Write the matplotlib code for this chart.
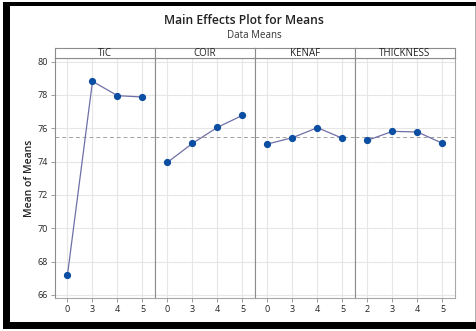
import matplotlib.pyplot as plt
from matplotlib.patches import Rectangle

plt.rcParams['font.family'] = ['Open Sans', 'DejaVu Sans']

factors = ['TiC', 'COIR', 'KENAF', 'THICKNESS']
levels = [['0', '3', '4', '5'],
          ['0', '3', '4', '5'],
          ['0', '3', '4', '5'],
          ['2', '3', '4', '5']]
tic_means = [67.22, 78.82, 77.96, 77.88]
coir_means = [73.96, 75.10, 76.06, 76.78]
kenaf_means = [75.06, 75.44, 76.04, 75.40]
thick_means = [75.28, 75.82, 75.78, 75.10]
grand_mean = 75.46
yticks = [66, 68, 70, 72, 74, 76, 78, 80]

all_means = [tic_means, coir_means, kenaf_means, thick_means]

W, H = 477, 331
fig = plt.figure(figsize=(W / 100, H / 100), dpi=100)

def px(x0, y0, w, h):
    # pixel box (top-left origin) -> figure fraction
    return [x0 / W, 1 - (y0 + h) / H, w / W, h / H]

# window frame
frame = dict(transform=fig.transFigure, figure=fig, color='black', lw=0)
fig.patches.append(Rectangle((3 / W, 1 - 329 / H), 7 / W, 327 / H, **frame))
fig.patches.append(Rectangle((3 / W, 1 - 6 / H), 474 / W, 4 / H, **frame))
fig.patches.append(Rectangle((3 / W, 1 - 329 / H), 474 / W, 7 / H, **frame))
fig.patches.append(Rectangle((475.5 / W, 1 - 322 / H), 1 / W, 316 / H,
                             transform=fig.transFigure, figure=fig,
                             color='#b0b0b0', lw=0))

line_col = '#6f6fa8'
dot_col = '#0b4ea2'
edge_col = '#8c8c8c'

left, top, pw, ph = 55, 58, 100, 240
for i, (name, labs, vals) in enumerate(zip(factors, levels, all_means)):
    ax = fig.add_axes(px(left + i * pw, top, pw, ph))
    xs = range(len(vals))
    ax.axhline(grand_mean, color='#a0a0a0', ls=(0, (4, 3)), lw=0.7, zorder=1)
    ax.plot(xs, vals, color=line_col, lw=0.9, zorder=2)
    ax.plot(xs, vals, 'o', color=dot_col, ms=4.2, zorder=3)
    ax.set_xlim(-0.5, 3.5)
    ax.set_ylim(65.82, 80.22)
    ax.set_xticks(list(xs))
    ax.set_xticklabels(labs)
    ax.set_yticks(yticks)
    ax.grid(True, color='#e6e6e6', lw=0.8, zorder=0)
    ax.set_axisbelow(True)
    ax.tick_params(axis='both', length=3, width=0.6, color='#8c8c8c',
                   labelsize=6.5, pad=2, labelcolor='#222222')
    if i > 0:
        ax.tick_params(axis='y', left=False, labelleft=False)
    for s in ax.spines.values():
        s.set_color(edge_col)
        s.set_linewidth(0.8)
    ax.spines['bottom'].set_color('#a8a8a8')
    if i == 3:
        ax.spines['right'].set_color('#a8a8a8')

    # factor strip
    sx = fig.add_axes(px(left + i * pw, 48, pw, 10))
    sx.set_xticks([])
    sx.set_yticks([])
    for s in sx.spines.values():
        s.set_color(edge_col)
        s.set_linewidth(0.8)
    sx.text(0.5, 0.4, name, ha='center', va='center', fontsize=7,
            color='#222222', transform=sx.transAxes)

fig.text(244 / W, 1 - 21 / H, 'Main Effects Plot for Means', ha='center',
         va='center', fontsize=8.7, fontweight='semibold', color='#222222')
fig.text(254 / W, 1 - 35 / H, 'Data Means', ha='center', va='center',
         fontsize=7, color='#333333')
fig.text(30 / W, 1 - 178 / H, 'Mean of Means', ha='center', va='center',
         rotation=90, fontsize=7.5, fontweight='semibold', color='#222222')

fig.savefig('out.png', dpi=100)
